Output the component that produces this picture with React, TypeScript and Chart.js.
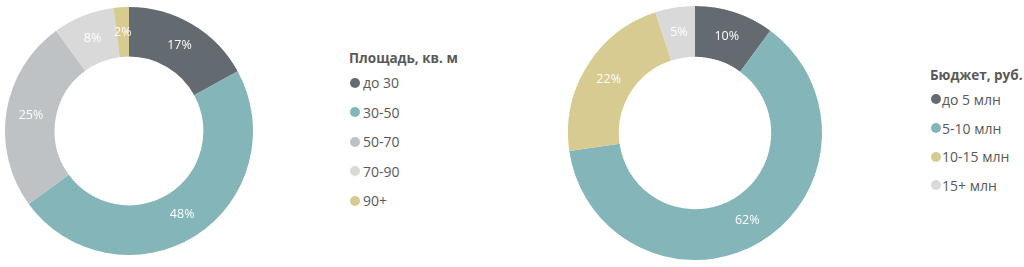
import React, { useEffect, useRef } from "react";
import { Chart, registerables } from "chart.js";

Chart.register(...registerables);

const areaTitle = "Площадь, кв. м";
const areaLabels = ["до 30", "30-50", "50-70", "70-90", "90+"];
const areaValues = [17, 48, 25, 8, 2];
const areaColors = ["#636A70", "#83B5B9", "#BEC2C5", "#D9D9D9", "#D8CB92"];

const budgetTitle = "Бюджет, руб.";
const budgetLabels = ["до 5 млн", "5-10 млн", "10-15 млн", "15+ млн"];
const budgetValues = [10, 62, 22, 5];
const budgetColors = ["#636A70", "#83B5B9", "#D8CB92", "#D9D9D9"];

const FONT = '"Open Sans", sans-serif';

const pctLabels = {
  id: "pctLabels",
  afterDatasetsDraw(chart: any) {
    const ctx = chart.ctx;
    const meta = chart.getDatasetMeta(0);
    const data = chart.data.datasets[0].data;
    ctx.save();
    ctx.fillStyle = "#ffffff";
    ctx.font = `12.5px ${FONT}`;
    ctx.textAlign = "center";
    ctx.textBaseline = "middle";
    meta.data.forEach((arc: any, i: number) => {
      const p = arc.tooltipPosition();
      ctx.fillText(`${data[i]}%`, p.x, p.y);
    });
    ctx.restore();
  },
};

function Donut({ labels, values, colors }: { labels: string[]; values: number[]; colors: string[] }) {
  const ref = useRef<HTMLCanvasElement>(null);
  useEffect(() => {
    if (!ref.current) return;
    const chart = new Chart(ref.current, {
      type: "doughnut",
      data: {
        labels,
        datasets: [{ data: values, backgroundColor: colors, borderWidth: 0 }],
      },
      options: {
        animation: false,
        responsive: true,
        maintainAspectRatio: false,
        cutout: "60%",
        layout: { padding: 0 },
        plugins: { legend: { display: false }, tooltip: { enabled: false } },
      },
      plugins: [pctLabels],
    });
    return () => chart.destroy();
  }, []);
  return <canvas ref={ref} />;
}

function Legend({
  title, labels, colors, left, top, itemH, titleH, gap,
}: { title: string; labels: string[]; colors: string[]; left: number; top: number; itemH: number; titleH: number; gap: number }) {
  return (
    <div style={{ position: "absolute", left, top, fontFamily: FONT, color: "#595959" }}>
      <div style={{ fontWeight: 700, fontSize: 13.5, height: titleH, lineHeight: `${titleH}px`, whiteSpace: "nowrap" }}>{title}</div>
      {labels.map((l, i) => (
        <div key={l} style={{ display: "flex", alignItems: "center", height: itemH, fontSize: 14, whiteSpace: "nowrap" }}>
          <span style={{ display: "inline-block", width: 10, height: 10, borderRadius: 5, background: colors[i], marginLeft: 1, marginRight: gap }} />
          <span>{l}</span>
        </div>
      ))}
    </div>
  );
}

export default function App() {
  return (
    <div style={{ position: "fixed", left: 0, top: 0, width: 1024, height: 267, background: "#fff", overflow: "hidden" }}>
      <div style={{ position: "absolute", left: 5, top: 7, width: 248, height: 248 }}>
        <Donut labels={areaLabels} values={areaValues} colors={areaColors} />
      </div>
      <Legend title={areaTitle} labels={areaLabels} colors={areaColors} left={349} top={48} itemH={29.5} titleH={20} gap={3} />
      <div style={{ position: "absolute", left: 568, top: 6, width: 254, height: 254 }}>
        <Donut labels={budgetLabels} values={budgetValues} colors={budgetColors} />
      </div>
      <Legend title={budgetTitle} labels={budgetLabels} colors={budgetColors} left={930} top={65} itemH={28.7} titleH={20} gap={1} />
    </div>
  );
}
